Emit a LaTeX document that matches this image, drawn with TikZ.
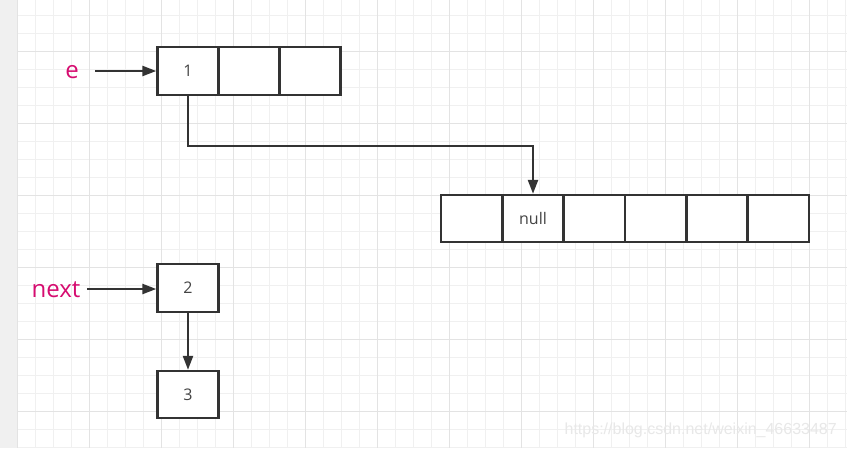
\documentclass[tikz,border=0pt]{standalone}
\usepackage{fontspec}
\setmainfont{Open Sans}
\newfontfamily\wmfont{Liberation Sans}
\usetikzlibrary{arrows.meta}
\definecolor{linec}{HTML}{333333}
\definecolor{textc}{HTML}{444444}
\definecolor{pinkc}{RGB}{214,12,112}
\definecolor{minorc}{HTML}{F0F0F0}
\definecolor{majorc}{HTML}{E3E3E3}
\definecolor{stripc}{HTML}{F0F0F0}
\tikzset{
  cell/.style={draw=linec, line width=2.4pt, fill=white, minimum width=61pt, minimum height=48pt, inner sep=0pt, text=textc, font=\fontsize{16}{18}\selectfont},
  lbl/.style={text=pinkc, font=\fontsize{24}{28}\selectfont, inner sep=0pt},
  conn/.style={draw=linec, line width=2.4pt, -{Triangle[length=14pt,width=10pt]}},
}
\begin{document}
\begin{tikzpicture}[x=1pt,y=-1pt]
\useasboundingbox (0,0) rectangle (847,448);
\fill[white] (0,0) rectangle (847,448);
\fill[stripc] (0,0) rectangle (17,448);
% grid
\foreach \i in {0,...,46} { \draw[minorc, line width=1pt] ({17+18*\i},0) -- ({17+18*\i},448); }
\foreach \j in {0,...,24} { \draw[minorc, line width=1pt] (17,{15+18*\j}) -- (847,{15+18*\j}); }
\foreach \i in {0,...,11} { \draw[majorc, line width=1pt] ({17+72*\i},0) -- ({17+72*\i},448); }
\foreach \j in {0,...,5} { \draw[majorc, line width=1pt] (17,{51+72*\j}) -- (847,{51+72*\j}); }
% watermark
\node[anchor=east, text=black!9, font=\wmfont\fontsize{16}{18}\selectfont, inner sep=0pt] (wm) at (837,430) {https://blog.csdn.net/weixin\_46633487};
% top row
\node[cell] (c1) at (188,71) {1};
\node[cell] (c2) at (249,71) {};
\node[cell] (c3) at (310,71) {};
% bottom row
\node[cell, minimum width=61.33pt, minimum height=47pt] (b1) at (471.67,218.5) {};
\node[cell, minimum width=61.33pt, minimum height=47pt] (b2) at (533,218.5) {null};
\node[cell, minimum width=61.33pt, minimum height=47pt] (b3) at (594.33,218.5) {};
\node[cell, minimum width=61.33pt, minimum height=47pt] (b4) at (655.67,218.5) {};
\node[cell, minimum width=61.33pt, minimum height=47pt] (b5) at (717,218.5) {};
\node[cell, minimum width=61.33pt, minimum height=47pt] (b6) at (778.33,218.5) {};
% list nodes
\node[cell] (n2) at (188,288) {2};
\node[cell, minimum height=47pt] (n3) at (188,394.5) {3};
% labels
\node[lbl] (e) at (72,72) {e};
\node[lbl] (next) at (56,290) {next};
\coordinate (es) at (95,71);
\coordinate (ns) at (87,289);
% connectors
\draw[conn] (es) -- (c1.west);
\draw[conn] (ns) -- (n2.west |- ns);
\draw[conn] (c1.south) -- ++(0,50) -| (b2.north);
\draw[conn] (n2.south) -- (n3.north);
\end{tikzpicture}
\end{document}
